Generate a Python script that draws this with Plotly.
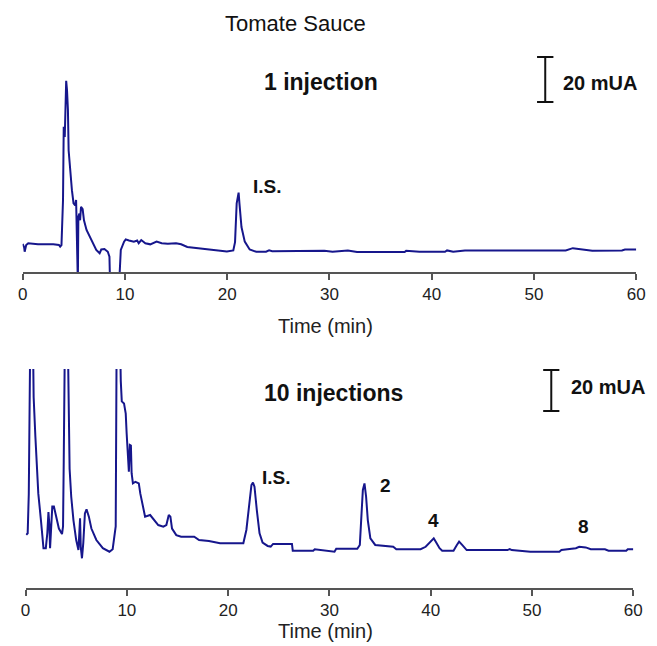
import plotly.graph_objects as go

# ---------------- data ----------------
top_time = [0.0, 0.15, 0.2, 0.35, 0.55, 1.5, 3.0, 3.55, 3.67, 3.8, 3.95, 3.97, 4.02, 4.12, 4.2, 4.26,
            4.34, 4.43, 4.5, 4.66, 4.82, 4.98, 5.14, 5.23, 5.3, 5.4, 5.45, 5.55, 5.62, 5.71, 5.87, 6.0,
            6.25, 6.73, 7.2, 7.53, 7.69, 8.0, 8.33, 8.49, 8.55, 9.44, 9.6, 9.92, 10.08, 10.4, 10.88,
            11.2, 11.35, 11.6, 12.0, 12.48, 13.1, 13.6, 14.2, 15.0, 15.5, 16.1, 17.4, 19.0, 19.97,
            20.6, 20.77, 20.93, 21.05, 21.12, 21.2, 21.4, 21.72, 22.2, 22.84, 23.8, 24.1, 24.4, 29.5,
            30.3, 31.8, 32.7, 37.35, 37.5, 38.8, 41.3, 41.5, 42.1, 43.25, 53.1, 53.8, 54.4, 55.7,
            58.6, 58.9, 60.0]
top_signal = [12.5, 11.0, 9.0, 12.0, 12.8, 12.3, 12.3, 12.0, 11.3, 12.0, 32.0, 60.0, 64.6, 60.0, 85.0, 85.0,
              80.9, 72.0, 54.0, 44.0, 36.4, 30.5, 29.6, 32.0, -5.0, -5.0, 24.6, 26.0, 23.0, 29.0, 28.0, 23.0,
              18.7, 14.2, 9.8, 8.3, 10.0, 10.2, 9.0, 6.8, -5.0, -5.0, 9.8, 13.5, 14.5, 14.0, 13.5,
              14.0, 12.8, 14.2, 12.8, 12.3, 13.5, 12.8, 12.6, 12.8, 12.3, 11.1, 10.4, 9.4, 9.1,
              9.6, 13.3, 30.5, 35.0, 35.3, 30.5, 20.0, 13.5, 10.0, 9.0, 9.0, 9.6, 9.2, 9.4,
              9.0, 9.6, 8.9, 8.9, 9.4, 9.0, 9.0, 9.6, 9.0, 9.6, 9.6, 10.6, 10.2, 9.4,
              9.6, 10.0, 10.0]

bot_time = [0.07, 0.21, 0.32, 0.39, 0.48, 0.71, 0.8, 0.97, 1.1, 1.26, 1.52, 1.77, 2.0, 2.15, 2.26, 2.35,
            2.42, 2.5, 2.64, 2.8, 2.97, 3.29, 3.6, 3.7, 3.77, 3.83, 3.9, 4.15, 4.25, 4.35, 4.51, 4.73,
            5.0, 5.22, 5.31, 5.38, 5.45, 5.57, 5.7, 5.86, 6.02, 6.25, 6.5, 6.99, 7.63, 8.28, 8.6, 8.76,
            8.9, 9.0, 9.3, 9.4, 9.5, 9.72, 9.89, 9.98, 10.1, 10.2, 10.3, 10.4, 10.47, 10.6, 10.85,
            11.18, 11.33, 11.5, 11.8, 12.3, 12.6, 13.1, 13.6, 13.9, 14.14, 14.3, 14.46, 14.88, 15.36,
            16.65, 17.13, 18.1, 19.2, 21.5, 21.8, 22.06, 22.3, 22.45, 22.6, 22.83, 23.1, 23.4, 23.9,
            24.2, 24.44, 26.3, 26.38, 28.4, 28.55, 30.5, 30.67, 32.75, 33.0, 33.17, 33.3, 33.46,
            33.62, 33.79, 34.04, 34.52, 36.3, 36.6, 39.0, 39.5, 40.0, 40.3, 40.5, 40.87, 41.13,
            42.25, 42.58, 42.8, 43.1, 43.55, 47.57, 47.8, 48.0, 49.83, 52.7, 52.9, 54.33, 54.66,
            55.3, 55.8, 57.2, 57.55, 59.3, 59.45, 60.0]
bot_signal = [25.9, 26.7, 46.0, 89.0, 130.0, 130.0, 93.0, 73.8, 59.0, 46.0, 33.0, 19.4, 19.4, 26.8, 37.0, 31.0,
              19.4, 30.0, 39.7, 39.7, 35.6, 29.0, 26.3, 30.0, 62.0, 95.0, 130.0, 130.0, 78.7, 58.0, 44.5, 33.0,
              23.4, 18.5, 27.0, 34.0, 20.0, 14.5, 22.0, 36.4, 38.4, 34.8, 29.0, 23.4, 19.4, 17.7, 18.9, 25.0,
              30.0, 130.0, 130.0, 101.0, 91.0, 90.0, 85.0, 75.5, 62.4, 56.7, 69.8, 69.5, 56.0, 51.0, 51.8,
              51.0, 46.0, 41.3, 34.8, 35.6, 33.6, 30.7, 29.9, 30.7, 35.6, 34.8, 29.0, 25.8, 25.0,
              25.0, 23.4, 22.9, 21.8, 21.8, 28.3, 41.3, 50.2, 51.4, 49.4, 38.0, 26.7, 22.1, 20.5,
              20.2, 21.5, 21.5, 18.2, 18.2, 18.9, 17.7, 19.1, 19.1, 21.0, 36.4, 47.8, 51.0,
              44.5, 33.0, 24.2, 21.0, 20.1, 18.9, 18.9, 20.1, 22.6, 24.2, 22.6, 19.4, 18.2,
              18.2, 21.0, 22.6, 21.0, 18.5, 18.5, 19.0, 18.5, 17.7, 17.7, 18.5, 19.4, 20.1,
              19.8, 18.9, 18.9, 18.2, 18.2, 18.9, 18.9]

tick_vals = [0, 10, 20, 30, 40, 50, 60]
tick_text = ["0", "10", "20", "30", "40", "50", "60"]

# peak labels (time, signal, text)
top_peak_t = [23.9]
top_peak_y = [37.8]
top_peak_txt = ["I.S."]
bot_peak_t = [24.8, 35.5, 40.3, 55.1]
bot_peak_y = [54.1, 50.2, 32.8, 30.1]
bot_peak_txt = ["I.S.", "2", "4", "8"]

scale_mUA = 20
top_bar_t, top_bar_y0 = 51.1, 75.6
bot_bar_t, bot_bar_y0 = 51.9, 86.3

# ---------------- figure ----------------
W, H = 657, 646
FONT = "Liberation Sans, Arial, sans-serif"
LINE = "#16168c"
AX = "#555555"

def px(x):
    return x / W

def py(y):
    return 1 - y / H

fig = go.Figure()
fig.add_trace(go.Scatter(x=top_time, y=top_signal, mode="lines",
                         line=dict(color=LINE, width=2), xaxis="x", yaxis="y",
                         showlegend=False, hoverinfo="skip"))
fig.add_trace(go.Scatter(x=bot_time, y=bot_signal, mode="lines",
                         line=dict(color=LINE, width=2), xaxis="x2", yaxis="y2",
                         showlegend=False, hoverinfo="skip"))

xcommon = dict(range=[0, 60], tickvals=tick_vals, ticktext=tick_text, showgrid=False,
               zeroline=False, showline=True, linecolor=AX, linewidth=1.5,
               ticks="outside", ticklen=6, tickcolor=AX, tickwidth=1.5,
               tickfont=dict(family=FONT, size=17, color="#222222"))
ycommon = dict(visible=False, showgrid=False, zeroline=False)

fig.update_layout(
    width=W, height=H, autosize=False,
    margin=dict(l=0, r=0, t=0, b=0),
    paper_bgcolor="white", plot_bgcolor="white",
    xaxis=dict(domain=[px(18), px(645)], anchor="y", **xcommon),
    yaxis=dict(domain=[py(272), py(50)], range=[0, 98.7], anchor="x", **ycommon),
    xaxis2=dict(domain=[px(21), px(642)], anchor="y2", **xcommon),
    yaxis2=dict(domain=[py(588), py(369)], range=[0, 106.8], anchor="x2", **ycommon),
)

ann = []
ann.append(dict(text="Tomate Sauce", x=px(223), y=py(24), xref="paper", yref="paper",
                xanchor="left", yanchor="middle", showarrow=False,
                font=dict(family=FONT, size=22, color="#111111")))
ann.append(dict(text="<b>1 injection</b>", x=px(263), y=py(82), xref="paper", yref="paper",
                xanchor="left", yanchor="middle", showarrow=False,
                font=dict(family=FONT, size=23, color="#111111")))
ann.append(dict(text="<b>10 injections</b>", x=px(263), y=py(393), xref="paper", yref="paper",
                xanchor="left", yanchor="middle", showarrow=False,
                font=dict(family=FONT, size=23, color="#111111")))
ann.append(dict(text="<b>20 mUA</b>", x=px(568), y=py(83), xref="paper", yref="paper",
                xanchor="left", yanchor="middle", showarrow=False,
                font=dict(family=FONT, size=20, color="#111111")))
ann.append(dict(text="<b>20 mUA</b>", x=px(576), y=py(387), xref="paper", yref="paper",
                xanchor="left", yanchor="middle", showarrow=False,
                font=dict(family=FONT, size=20, color="#111111")))
for yy in (326, 631):
    ann.append(dict(text="Time (min)", x=px(327.5), y=py(yy), xref="paper", yref="paper",
                    xanchor="center", yanchor="middle", showarrow=False,
                    font=dict(family=FONT, size=20, color="#222222")))
for t, v, s in zip(top_peak_t, top_peak_y, top_peak_txt):
    ann.append(dict(text=f"<b>{s}</b>", x=t, y=v, xref="x", yref="y", showarrow=False,
                    xanchor="center", yanchor="middle",
                    font=dict(family=FONT, size=19, color="#111111")))
for t, v, s in zip(bot_peak_t, bot_peak_y, bot_peak_txt):
    ann.append(dict(text=f"<b>{s}</b>", x=t, y=v, xref="x2", yref="y2", showarrow=False,
                    xanchor="center", yanchor="middle",
                    font=dict(family=FONT, size=19, color="#111111")))
fig.update_layout(annotations=ann)

shapes = []
for (xr, yr, t0, y0) in (("x", "y", top_bar_t, top_bar_y0), ("x2", "y2", bot_bar_t, bot_bar_y0)):
    y1 = y0 + scale_mUA
    ln = dict(color="#111111", width=2)
    shapes.append(dict(type="line", xref=xr, yref=yr, x0=t0, x1=t0, y0=y0, y1=y1, line=ln))
    shapes.append(dict(type="line", xref=xr, yref=yr, x0=t0 - 0.8, x1=t0 + 0.8, y0=y0, y1=y0, line=ln))
    shapes.append(dict(type="line", xref=xr, yref=yr, x0=t0 - 0.8, x1=t0 + 0.8, y0=y1, y1=y1, line=ln))
fig.update_layout(shapes=shapes)

fig.write_html("out.html", config={"responsive": False, "displayModeBar": False},
               post_script="document.body.style.margin='0px';document.body.style.overflow='hidden';")
